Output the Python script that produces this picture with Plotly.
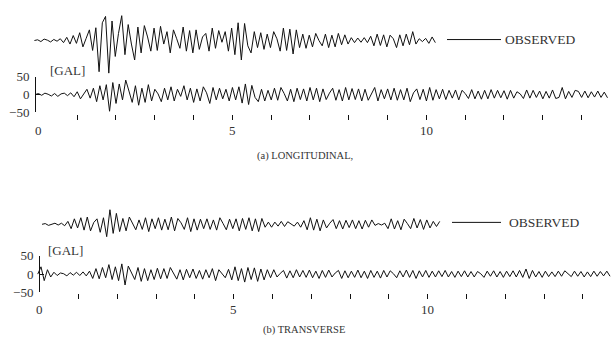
import numpy as np
import plotly.graph_objects as go

# ---------------- data ----------------
DT = 1.0 / 12.0

# (a) LONGITUDINAL - observed record (relative amplitude, GAL-equivalent)
obs_a_t0 = -0.10
obs_a = [
    0, 2, -3, 4, 1, -4, 3, -2, 5, -6, 9, -10,
    14, -8, 22, -18, 6, 30, -28, 36, -88, 50, 68, -92,
    55, -45, 20, 70, -40, 45, -10, -55, 38, -35, 42, 10,
    -30, 35, -28, 40, -10, 25, -35, 30, 5, -22, 38, -30,
    28, -35, 30, -25, 10, 20, -30, 35, -22, 28, -5, 25,
    -30, 35, -40, 50, -55, 48, -15, -35, 25, -20, 22, -25,
    18, -20, 25, 5, -30, 35, -28, 32, -38, 30, -20, 18,
    -22, 15, -18, 20, 0, -15, 18, -20, 15, -18, 20, -12,
    16, -10, 8, -6, 7, -5, 8, -6, 12, -15, 18, -14,
    16, -18, 15, 5, -20, 16, -15, 18, -12, 25, -10, 5,
    -3, 6, -8, 10, -6,
]

# (a) LONGITUDINAL - lower record [GAL]
low_a_t0 = -0.08
low_a = [
    0, 3, -2, 4, 1, -4, 3, -5, 2, 4, -3, 5,
    -6, 8, -12, 3, 15, -10, 18, -20, 25, -15, 28, -47,
    34, -25, 30, -15, 41, 10, -22, 25, -30, 18, -22, 28,
    -18, 15, 2, -20, 18, -15, 22, -18, 15, -5, 25, -15,
    18, -22, 16, -18, 22, 5, -25, 20, -15, 18, -12, 15,
    -18, 20, -15, 22, -24, 30, -28, 26, -8, -20, 15, -18,
    12, -15, 18, -16, 20, 3, -18, 15, -20, 18, -14, 16,
    -18, 20, -15, 18, -20, 16, -14, 4, 18, -16, 14, -18,
    20, -15, 17, -14, 16, -18, 15, -16, 2, 20, -18, 14,
    -12, 16, -15, 18, -16, 14, -15, 18, -20, 5, 16, -14,
    15, -18, 20, -16, 14, -12, 15, -14, 12, -10, 13, -15,
    12, 3, -11, 14, -12, 10, -13, 12, -12, 14, -10, 12,
    -9, 11, -13, 12, -10, 8, 2, -11, 13, -10, 12, -8,
    10, -12, 9, -10, 13, -11, -8, 20, -12, 9, -8, 12,
    9, -8, 10, -9, 8, -7, 10, -8, 7, -9,
]

# (b) TRANSVERSE - observed record
obs_b_t0 = 0.06
obs_b = [
    0, 2, -3, 1, 3, -2, 3, -4, 8, -12, 15, -10,
    18, -16, 20, -18, 5, 15, -22, 18, -34, 40, -25, 30,
    -20, 16, -18, 20, 3, -15, 12, -14, 18, -20, 15, -12,
    18, -16, 14, -15, 20, -18, 16, 4, -14, 18, -20, 15,
    -16, 14, -12, 15, -14, 12, -16, 18, 2, -15, 14, -12,
    15, -18, 16, -14, 18, -18, 15, -20, 16, -8, 6, -8,
    6, -5, 8, -6, 7, 1, -5, 6, -8, 10, -15, 18,
    -16, 14, -18, 12, -10, 3, 13, -12, 10, -13, 11, -9,
    12, -12, 10, -13, 11, -8, 12, -3, 2, -2, 3, -12,
    15, -13, 10, -15, 14, 2, -12, 16, -10, 13, -14, 12,
    -10, 8, -6, 8,
]

# (b) TRANSVERSE - lower record [GAL]
low_b_t0 = -0.05
low_b = [
    0, 20, -18, 12, -8, 5, -4, 3, 1, -5, 4, -3,
    5, -4, 6, -5, 8, -12, 15, -13, 18, -10, 26, -15,
    20, -18, 28, -30, 22, 4, -15, 18, -20, 15, -18, 12,
    -15, 16, -13, 15, -12, 18, 2, -14, 12, -16, 13, -10,
    14, -12, 10, -14, 12, -10, 15, -18, 12, 1, -10, 13,
    -16, 20, -18, 15, -22, 18, -15, 17, -20, 14, -16, 12,
    -10, 12, -8, 2, 10, -11, 9, -10, 12, -8, 10, -9,
    11, -10, 8, -12, 10, -9, 11, -8, 3, 10, -12, 9,
    -10, 8, -9, 11, -10, 8, -12, 10, -9, 8, -11, 10,
    -8, 9, 1, -10, 9, -8, 11, -9, 10, -12, 9, -8,
    10, -9, 8, -8, 9, -7, 10, -8, 7, -9, 8, -7,
    9, -8, 7, -8, 7, 1, -9, 8, -6, 9, -8, 7,
    -9, 8, -7, 9, -8, 10, -9, 14, -12, 10, -8, 7,
    -9, 8, -7, 6, -7, 8, -6, 9, 2, -7, 8, -6,
    7, -8, 6, -7, 8, -6, 7, -5, 8, -6,
]

time_ticks = list(range(1, 15))
time_labels = ["0", "5", "10"]
gal_ticks = [-50, 0, 50]
gal_labels = ["\u221250", "0", "50"]
captions = ["(a) LONGITUDINAL,", "(b) TRANSVERSE"]
legend_text = "OBSERVED"
unit_text = "[GAL]"

# ---------------- layout helpers ----------------
W, H = 611, 351
PXS = 38.8  # pixels per second


def py(p):
    return 1 - p / H


def px(p):
    return p / W


def times(t0, vals):
    return t0 + DT * np.arange(len(vals))


FONT = "Liberation Serif"
INK = "#111111"
LINE = dict(color=INK, width=1)

fig = go.Figure()
fig.add_trace(go.Scatter(x=times(obs_a_t0, obs_a), y=obs_a, mode="lines", line=LINE,
                         xaxis="x", yaxis="y2", showlegend=False, hoverinfo="skip"))
fig.add_trace(go.Scatter(x=times(low_a_t0, low_a), y=low_a, mode="lines", line=LINE,
                         xaxis="x", yaxis="y", showlegend=False, hoverinfo="skip"))
fig.add_trace(go.Scatter(x=times(obs_b_t0, obs_b), y=obs_b, mode="lines", line=LINE,
                         xaxis="x2", yaxis="y4", showlegend=False, hoverinfo="skip"))
fig.add_trace(go.Scatter(x=times(low_b_t0, low_b), y=low_b, mode="lines", line=LINE,
                         xaxis="x2", yaxis="y3", showlegend=False, hoverinfo="skip"))

tickfont = dict(family=FONT, size=13, color="#333")


def xaxis(t0px, pos_px):
    return dict(domain=[0, 1], range=[(0 - t0px) / PXS, (W - t0px) / PXS],
                anchor="free", position=py(pos_px), showgrid=False, zeroline=False,
                showline=False, ticks="outside", ticklen=5, tickwidth=1, tickcolor=INK,
                tickvals=time_ticks, showticklabels=False, fixedrange=True)


def galaxis(top, bot, xpos):
    return dict(domain=[py(bot), py(top)], range=[-50, 50], anchor="free",
                position=px(xpos), showgrid=False, zeroline=False, showline=True,
                linecolor=INK, linewidth=1, ticks="inside", ticklen=4, tickwidth=1,
                tickcolor=INK, tickvals=gal_ticks, ticktext=gal_labels,
                tickfont=tickfont, ticklabelstandoff=3, fixedrange=True)


def hidden(top, bot, base, scale):
    return dict(domain=[py(bot), py(top)],
                range=[-(bot - base) * scale, (base - top) * scale],
                anchor="x", visible=False, fixedrange=True)


fig.update_layout(
    width=W, height=H, margin=dict(l=0, r=0, t=0, b=0),
    paper_bgcolor="white", plot_bgcolor="rgba(0,0,0,0)",
    xaxis=xaxis(38.3, 112),
    xaxis2=xaxis(39.7, 299),
    yaxis=galaxis(73, 110, 35),
    yaxis2=hidden(2, 72, 35, 2.7),
    yaxis3=galaxis(260, 298, 39),
    yaxis4=hidden(198, 254, 227, 2.63),
)
fig.layout.yaxis4.anchor = "x2"

ann = []
for xr, ylab in (("x", 129), ("x2", 316)):
    for v, lab in zip([0, 5, 10], time_labels):
        ann.append(dict(x=v, y=py(ylab), xref=xr, yref="paper", text=lab,
                        showarrow=False, font=tickfont, xanchor="center", yanchor="middle"))
ann.append(dict(x=px(48), y=py(66), xref="paper", yref="paper", text=unit_text,
                showarrow=False, font=tickfont, xanchor="left", yanchor="middle"))
ann.append(dict(x=px(46), y=py(254), xref="paper", yref="paper", text=unit_text,
                showarrow=False, font=tickfont, xanchor="left", yanchor="middle"))
capfont = dict(family=FONT, size=10.5, color="#333")
ann.append(dict(x=px(305), y=py(156), xref="paper", yref="paper", text=captions[0],
                showarrow=False, font=capfont, xanchor="center", yanchor="middle"))
ann.append(dict(x=px(304), y=py(337), xref="paper", yref="paper", text=captions[1],
                showarrow=False, font=capfont, xanchor="center", yanchor="middle"))
legfont = dict(family=FONT, size=13.5, color="#333")
ann.append(dict(x=px(503), y=py(34), xref="paper", yref="paper", text=legend_text,
                showarrow=False, font=legfont, xanchor="left", yanchor="middle"))
ann.append(dict(x=px(507), y=py(225), xref="paper", yref="paper", text=legend_text,
                showarrow=False, font=legfont, xanchor="left", yanchor="middle"))
fig.update_layout(annotations=ann)

fig.add_shape(type="line", xref="paper", yref="paper", x0=px(447), x1=px(501),
              y0=py(34), y1=py(34), line=dict(color=INK, width=1))
fig.add_shape(type="line", xref="paper", yref="paper", x0=px(452), x1=px(501),
              y0=py(225), y1=py(225), line=dict(color=INK, width=1))

fig.write_html("out.html")
